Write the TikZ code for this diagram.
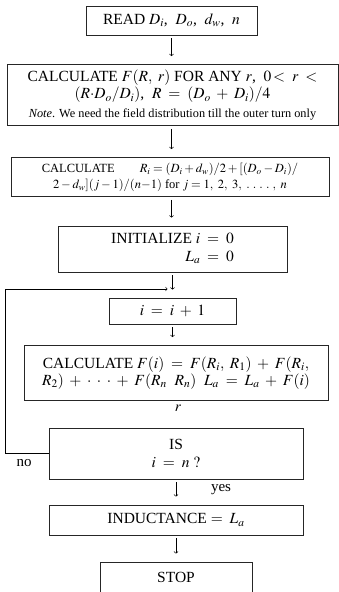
\documentclass[tikz,border=0pt]{standalone}
\usepackage{mathptmx}
\usepackage{fontspec}
\setmainfont{Liberation Serif}
\usepackage{tikz}
\usetikzlibrary{arrows, positioning}
\tikzstyle{process} = [rectangle, draw=black!85, line width=0.8pt, inner sep=0pt, text centered, align=center, font=\fontsize{15.5}{17.5}\selectfont]
\tikzstyle{label} = [inner sep=0pt, font=\fontsize{15}{17}\selectfont]
\tikzstyle{arrow} = [line width=0.6pt,->,>=to, shorten <=3pt, shorten >=8pt]

\begin{document}
\begin{tikzpicture}[x=1pt, y=-1pt]
\useasboundingbox (0,0) rectangle (339,592);

\node (read) [process, minimum width=171, minimum height=29] at (171.5,20.5) {READ $D_i$,\ \ $D_o$,\ \ $d_w$,\ \ $n$};
\node (calcF) [process, minimum width=331, minimum height=61] at (172.5,95)
  {CALCULATE $F(R,\ r)$ FOR ANY $r$,\ \ $0\!<\; r\; <$\\
   $(R{\cdot}D_o/D_i)$,\ \ $R \;=\; (D_o \;+\; D_i)/4$\\[1pt]
   {\fontsize{12.3}{13}\selectfont\textit{Note}. We need the field distribution till the outer turn only}};
\node (calcR) [process, minimum width=318, minimum height=39, font=\fontsize{12.5}{16}\selectfont] at (170,177)
  {CALCULATE\hspace{2em}$R_i = (D_i + d_w)/2 + [(D_o - D_i)/$\\
   $2 - d_w](j - 1)/(n{-}1)$ for $j = 1,\ 2,\ 3,\ .\ .\ .\ .\ ,\ n$};
\node (init) [process, minimum width=229, minimum height=46] at (172.5,249)
  {\begin{tabular}{@{}r@{}l@{}}INITIALIZE $i$ & ${}\;=\;0$\\ $L_a$ & ${}\;=\;0$\end{tabular}};
\node (iinc) [process, minimum width=127, minimum height=26] at (172.5,311) {$i \;=\; i \;+\; 1$};
\node (calcFi) [process, minimum width=304, minimum height=55] at (176,373)
  {CALCULATE $F(i) \;=\; F(R_i,\ R_1) \;+\; F(R_i,$\\
   $R_2) \;+\; \cdot\;\cdot\;\cdot \;+\; F(R_n\ \ R_n)\ \ L_a \;=\; L_a \;+\; F(i)$};
\node (r) [label] at (178,408) {$r$};
\node (isn) [process, minimum width=254, minimum height=51] at (176,453.5) {IS\\[1pt] $i \;=\; n\ ?$};
\node (no) [label] at (24,463) {no};
\node (yes) [label] at (221,490) {yes};
\node (induct) [process, minimum width=254, minimum height=30] at (176,520) {INDUCTANCE $=\; L_a$};
\node (stop) [process, minimum width=152, minimum height=30] at (176,577) {STOP};

\coordinate (join) at (172.5,289);
\coordinate (back) at (5,289);

\draw [arrow] (read.south) -- (read.south |- calcF.north);
\draw [arrow] (calcF.south -| read) -- (read |- calcR.north);
\draw [arrow] (calcR.south -| read) -- (read |- init.north);
\draw [arrow] (init.south) -- (iinc.north);
\draw [arrow] (iinc.south) -- (iinc |- calcFi.north);
\draw [arrow, shorten <=0pt, shorten >=5pt] (isn.west) -| (back) -- (join);
\draw [arrow] (isn.south) -- (induct.north);
\draw [arrow] (induct.south) -- (stop.north);

\end{tikzpicture}
\end{document}
